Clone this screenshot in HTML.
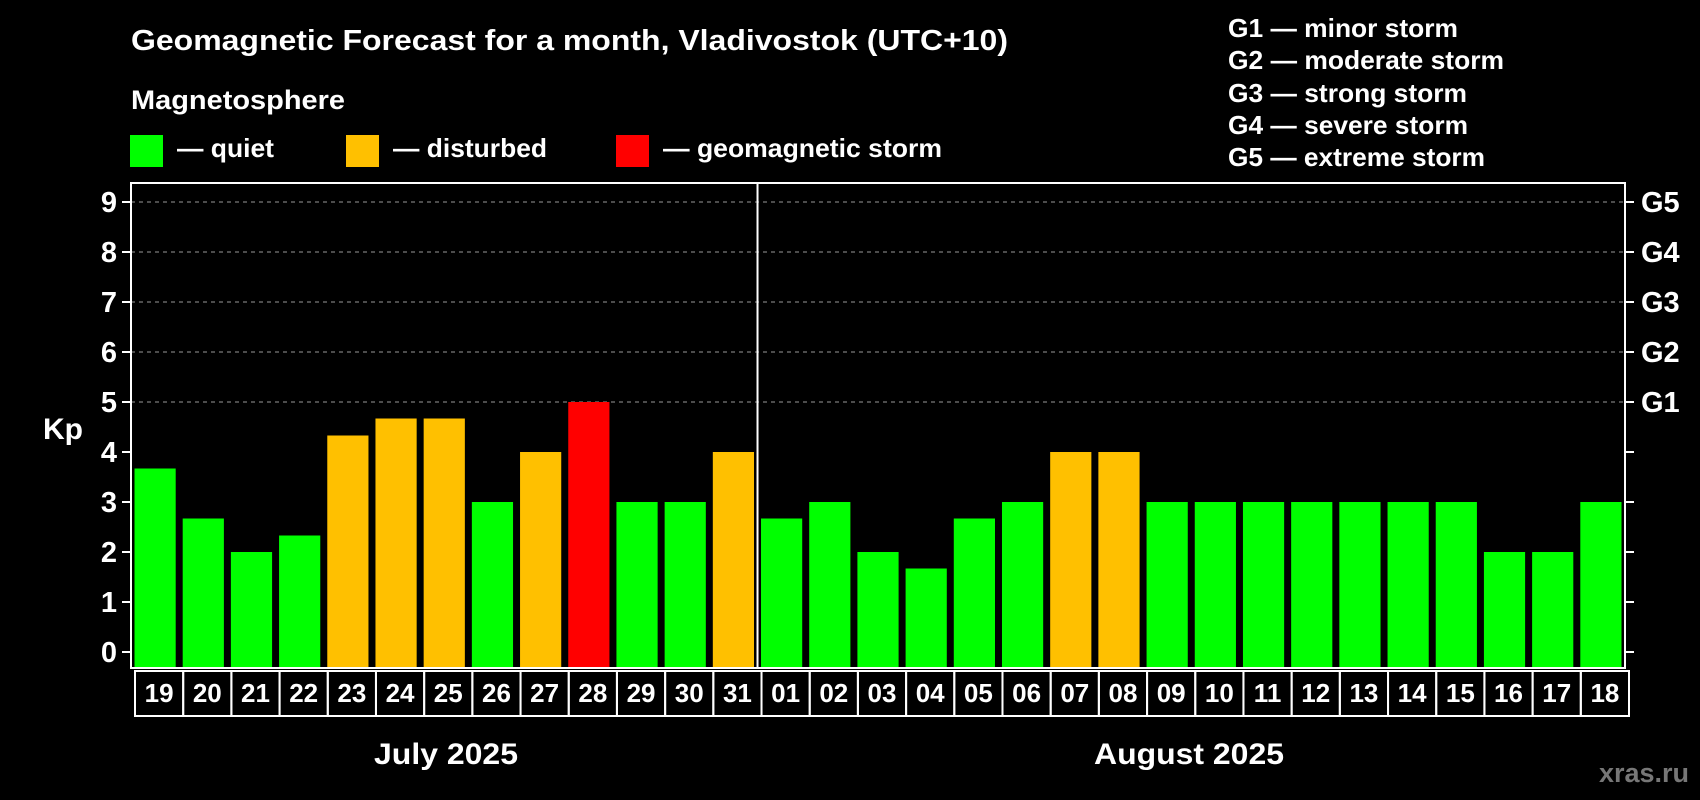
<!DOCTYPE html>
<html><head><meta charset="utf-8"><style>
html,body{margin:0;padding:0;background:#000;}
svg{display:block;font-family:"Liberation Sans",Arial,sans-serif;font-weight:bold;}
</style></head><body>
<svg id="chart" width="1700" height="800" viewBox="0 0 1700 800">
<text x="131" y="50" fill="#fff" font-size="29" textLength="877" lengthAdjust="spacingAndGlyphs">Geomagnetic Forecast for a month, Vladivostok (UTC+10)</text>
<text x="131" y="109" fill="#fff" font-size="27" textLength="214" lengthAdjust="spacingAndGlyphs">Magnetosphere</text>
<g><rect x="130" y="135" width="33" height="32" fill="#00ff00"/><text x="177" y="157" fill="#fff" font-size="26" textLength="97" lengthAdjust="spacingAndGlyphs">— quiet</text></g>
<g><rect x="346" y="135" width="33" height="32" fill="#ffc000"/><text x="393" y="157" fill="#fff" font-size="26" textLength="154" lengthAdjust="spacingAndGlyphs">— disturbed</text></g>
<g><rect x="616" y="135" width="33" height="32" fill="#ff0000"/><text x="663" y="157" fill="#fff" font-size="26" textLength="279" lengthAdjust="spacingAndGlyphs">— geomagnetic storm</text></g>
<g fill="#fff" font-size="26">
<text x="1228" y="37" textLength="230" lengthAdjust="spacingAndGlyphs">G1 — minor storm</text>
<text x="1228" y="69" textLength="276" lengthAdjust="spacingAndGlyphs">G2 — moderate storm</text>
<text x="1228" y="102" textLength="239" lengthAdjust="spacingAndGlyphs">G3 — strong storm</text>
<text x="1228" y="134" textLength="240" lengthAdjust="spacingAndGlyphs">G4 — severe storm</text>
<text x="1228" y="166" textLength="257" lengthAdjust="spacingAndGlyphs">G5 — extreme storm</text>
</g>
<text x="43" y="439" fill="#fff" font-size="30">Kp</text>
<text x="446" y="764" fill="#fff" font-size="30" text-anchor="middle" textLength="144" lengthAdjust="spacingAndGlyphs">July 2025</text>
<text x="1189" y="764" fill="#fff" font-size="30" text-anchor="middle" textLength="190" lengthAdjust="spacingAndGlyphs">August 2025</text>
<text x="1689" y="782" fill="#777" font-size="27" text-anchor="end">xras.ru</text>
<g id="grid"></g><g id="bars"></g><g id="axes"></g>
</svg>
<script>
const days = ["19","20","21","22","23","24","25","26","27","28","29","30","31","01","02","03","04","05","06","07","08","09","10","11","12","13","14","15","16","17","18"];
const kpValues = [3.67,2.67,2,2.33,4.33,4.67,4.67,3,4,5,3,3,4,2.67,3,2,1.67,2.67,3,4,4,3,3,3,3,3,3,3,2,2,3];
const yTicks = [0,1,2,3,4,5,6,7,8,9];
const gLabels = ["G1","G2","G3","G4","G5"];
const gLevels = [5,6,7,8,9];
const NS="http://www.w3.org/2000/svg";
const L=131,R=1625,T=183,B=668;
const slot=(R-L)/days.length;
const y=v=>652-v*50;
const xs=i=>L+slot*i;
function mk(tag,attrs,parent,text){const e=document.createElementNS(NS,tag);for(const k in attrs)e.setAttribute(k,attrs[k]);if(text!==undefined)e.textContent=text;parent.appendChild(e);return e;}
const grid=document.getElementById('grid'),bars=document.getElementById('bars'),axes=document.getElementById('axes');
yTicks.forEach(t=>{
  if(t>=5){const g=mk('line',{x1:L,x2:R,y1:y(t),y2:y(t),stroke:'#999','stroke-dasharray':'4,4','stroke-width':1},grid);
  
  }
  const tk=mk('line',{x1:L-9,x2:L,y1:y(t),y2:y(t),stroke:'#fff','stroke-width':2},axes);
  
  
  const rt=mk('line',{x1:R,x2:R+9,y1:y(t),y2:y(t),stroke:'#fff','stroke-width':2},axes);
  
  
  const lb=mk('text',{x:L-14,y:y(t)+10,fill:'#fff','font-size':29,'text-anchor':'end'},axes,String(t));
  
  
});
gLabels.forEach((g,i)=>{
  const t=mk('text',{x:R+16,y:y(gLevels[i])+10,fill:'#fff','font-size':29},axes,g);
  
  
});
kpValues.forEach((v,i)=>{
  const c=v>=5?'#ff0000':(v>=4?'#ffc000':'#00ff00');
  const yy=y(v);
  const b=mk('rect',{x:xs(i)+3.5,y:yy,width:slot-7,height:B-yy,fill:c},bars);
  
  
  const box=mk('rect',{x:xs(i)+4,y:671,width:slot,height:45,fill:'none',stroke:'#fff','stroke-width':2},axes);
  
  
  const dl=mk('text',{x:xs(i)+4+slot/2,y:702,fill:'#fff','font-size':26,'text-anchor':'middle'},axes,days[i]);
  
  
});
const fr=mk('rect',{x:L,y:T,width:R-L,height:B-T,fill:'none',stroke:'#fff','stroke-width':2},axes);


const sep=mk('line',{x1:xs(13),x2:xs(13),y1:T,y2:B,stroke:'#fff','stroke-width':2},axes);


</script>
</body></html>
